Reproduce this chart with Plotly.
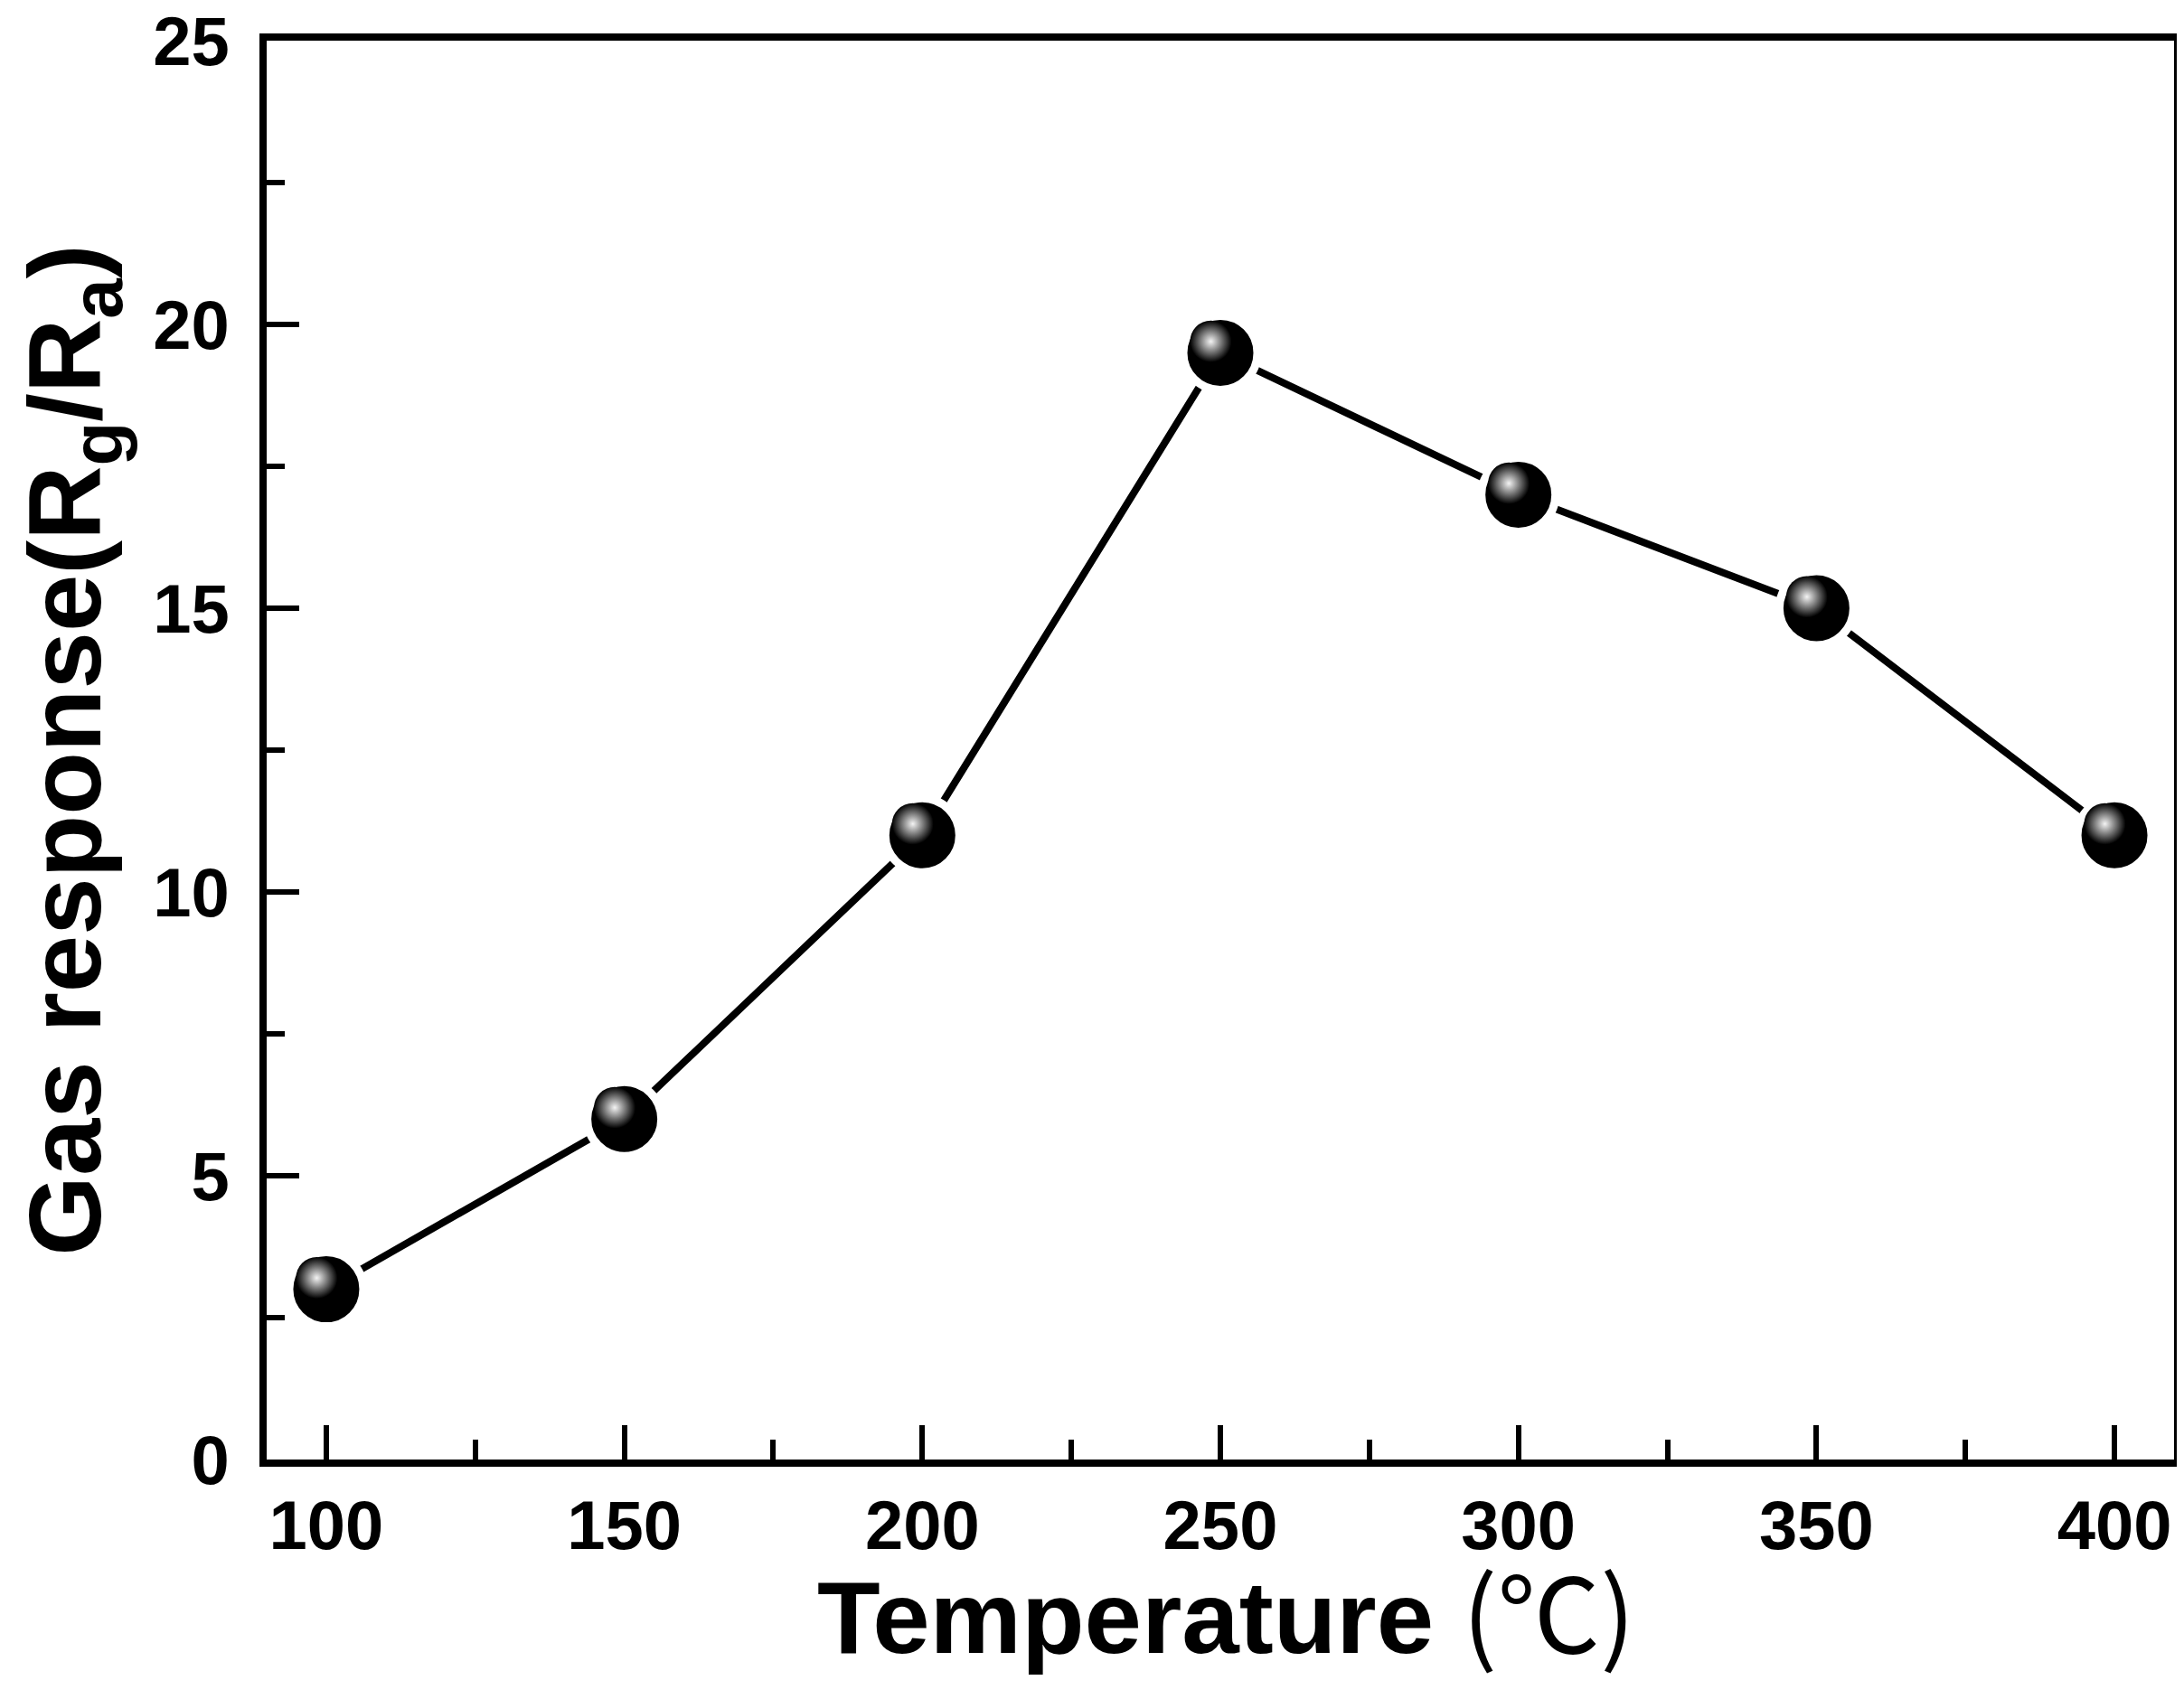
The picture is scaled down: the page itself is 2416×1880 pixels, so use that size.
import plotly.graph_objects as go

temperature = [100, 150, 200, 250, 300, 350, 400]
response = [3, 6, 11, 19.5, 17, 15, 11]
x_ticks = [100, 150, 200, 250, 300, 350, 400]
y_ticks = [0, 5, 10, 15, 20, 25]

x_range = [90, 410]
y_range = [0, 25]

x_title = 'Temperature <span style="font-family:Noto Sans CJK SC;font-weight:normal">(℃)</span>'
y_title = 'Gas response(R<sub>g</sub>/R<sub>a</sub>)'

fig = go.Figure()

# connecting line with black balls, white ring leaves a small gap at each ball
fig.add_trace(go.Scatter(x=temperature, y=response, mode='lines+markers',
                         line=dict(color='black', width=8),
                         marker=dict(color='black', size=82, line=dict(color='white', width=9)),
                         showlegend=False))

# specular highlight on each ball (overlay axes nudged a few pixels up-left)
fig.add_trace(go.Scatter(x=temperature, y=response, mode='markers', xaxis='x2', yaxis='y2',
                         marker=dict(color='black', size=46, line=dict(width=0),
                                     gradient=dict(type='radial', color='#f4f4f4')),
                         showlegend=False))

tick_font = dict(family='Liberation Sans', size=76, color='black', weight='bold')
title_font = dict(family='Liberation Sans', size=114, color='black', weight='bold')

fig.update_layout(
    width=2416, height=1880,
    margin=dict(l=287, r=19, t=37, b=273),
    plot_bgcolor='white', paper_bgcolor='white',
    xaxis=dict(range=x_range, tickvals=x_ticks, ticks='inside', ticklen=38, tickwidth=6,
               tickcolor='black', showline=True, linecolor='black', linewidth=8, mirror=True,
               showgrid=False, zeroline=False, tickfont=tick_font, ticklabelstandoff=0,
               ticklabeloverflow='allow', automargin=False,
               minor=dict(dtick=25, tick0=100, ticks='inside', ticklen=22, tickwidth=6,
                          tickcolor='black', showgrid=False)),
    yaxis=dict(range=y_range, tickvals=y_ticks, ticks='inside', ticklen=36, tickwidth=6,
               tickcolor='black', showline=True, linecolor='black', linewidth=8, mirror=True,
               showgrid=False, zeroline=False, tickfont=tick_font, ticklabelstandoff=18,
               ticklabeloverflow='allow', automargin='left',
               minor=dict(dtick=2.5, tick0=0, ticks='inside', ticklen=20, tickwidth=6,
                          tickcolor='black', showgrid=False),
               title=dict(text=y_title, font=title_font, standoff=40)),
    xaxis2=dict(overlaying='x', range=[x_range[0] + 1.6, x_range[1] + 1.6], visible=False,
                showticklabels=False),
    yaxis2=dict(overlaying='y', range=[y_range[0] - 0.2, y_range[1] - 0.2], visible=False,
                showticklabels=False),
)

fig.add_annotation(text=x_title, font=title_font, xref='paper', yref='paper',
                   x=0.5, y=0, xanchor='center', yanchor='top', xshift=6, yshift=-80,
                   showarrow=False)

fig.write_html("out.html")
